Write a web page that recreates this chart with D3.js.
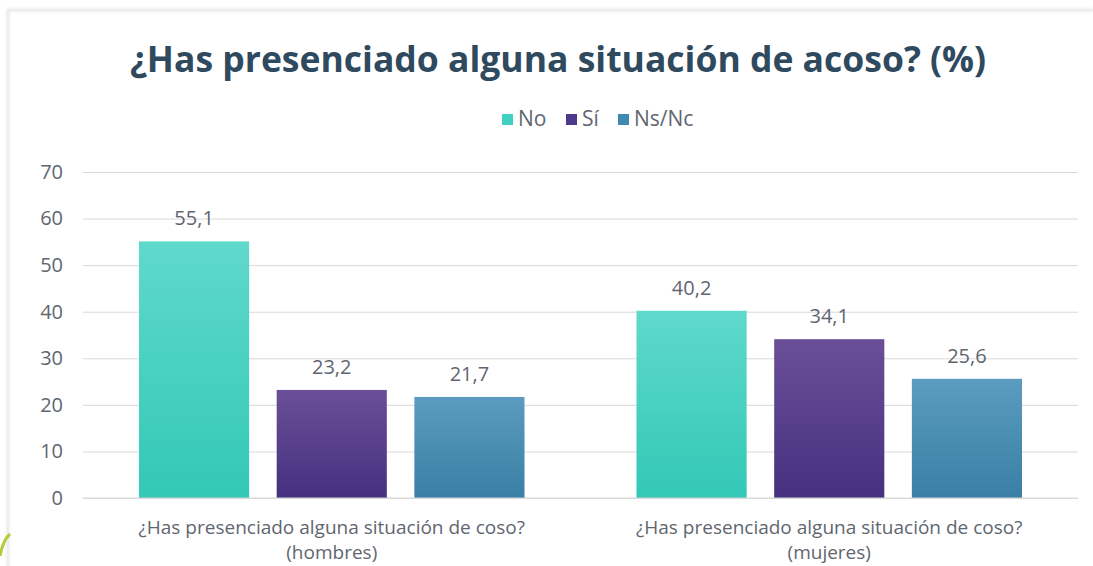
<!DOCTYPE html>
<html>
<head>
<meta charset="utf-8">
<script src="https://cdn.jsdelivr.net/npm/d3@7"></script>
<style>
  html, body { margin: 0; padding: 0; background: #ffffff; }
  svg { display: block; }
</style>
</head>
<body>
<script>
const categories = [
  ["¿Has presenciado alguna situación de coso?", "(hombres)"],
  ["¿Has presenciado alguna situación de coso?", "(mujeres)"]
];
const categoryKeys = ["hombres", "mujeres"];
const seriesNames = ["No", "Sí", "Ns/Nc"];
const seriesNo = [55.1, 40.2];
const seriesSi = [23.2, 34.1];
const seriesNsNc = [21.7, 25.6];
const yTicks = [0, 10, 20, 30, 40, 50, 60, 70];
const titleText = "¿Has presenciado alguna situación de acoso? (%)";

const seriesValues = [seriesNo, seriesSi, seriesNsNc];
const colors = {
  "No":    { legend: "#3fd0c0", top: "#5fd9cb", bottom: "#33c8b6" },
  "Sí":    { legend: "#4d3a8c", top: "#6a4f98", bottom: "#45307f" },
  "Ns/Nc": { legend: "#4189b0", top: "#5b9cc0", bottom: "#3a7fa6" }
};

const W = 1093, H = 566;
const margin = { left: 83, right: 15, top: 172, bottom: 68 };
const plotW = W - margin.left - margin.right;
const plotH = H - margin.top - margin.bottom;
const FONT = "Open Sans, sans-serif";
const GRAY = "#5f6670";

const svg = d3.select("body").append("svg").attr("width", W).attr("height", H);

// gradients
const defs = svg.append("defs");
seriesNames.forEach((s, i) => {
  const g = defs.append("linearGradient").attr("id", "grad" + i)
    .attr("x1", 0).attr("y1", 0).attr("x2", 0).attr("y2", 1);
  g.append("stop").attr("offset", "0%").attr("stop-color", colors[s].top);
  g.append("stop").attr("offset", "100%").attr("stop-color", colors[s].bottom);
});
const sh = defs.append("filter").attr("id", "shadow").attr("x", "-5%").attr("y", "-5%").attr("width", "110%").attr("height", "110%");
sh.append("feGaussianBlur").attr("stdDeviation", 1.5);

// panel border
svg.append("path")
  .attr("d", `M8,${H} L8,10 L${W},10`)
  .attr("fill", "none").attr("stroke", "#e6e6e6").attr("stroke-width", 2.5)
  .attr("filter", "url(#shadow)");
svg.append("path")
  .attr("d", `M8,${H} L8,10 L${W},10`)
  .attr("fill", "none").attr("stroke", "#e9e9e9").attr("stroke-width", 1);

// decorative swirl bottom-left
svg.append("path")
  .attr("d", "M0,556 Q3,540 10,534")
  .attr("fill", "none").attr("stroke", "#b6cc3a").attr("stroke-width", 3);

// title
svg.append("text")
  .attr("x", 558).attr("y", 72)
  .attr("text-anchor", "middle")
  .attr("font-family", FONT)
  .attr("font-weight", 700)
  .attr("font-size", 35.5)
  .attr("fill", "#2f4a5e")
  .text(titleText);

// legend
const legendItems = [
  { name: "No", x: 502 },
  { name: "Sí", x: 566 },
  { name: "Ns/Nc", x: 618 }
];
const lg = svg.append("g");
legendItems.forEach((it) => {
  lg.append("rect").attr("x", it.x).attr("y", 114).attr("width", 11).attr("height", 11)
    .attr("fill", colors[it.name].legend);
  lg.append("text").attr("x", it.x + 16).attr("y", 126)
    .attr("font-family", FONT).attr("font-size", 21)
    .attr("fill", GRAY).text(it.name);
});

const g = svg.append("g").attr("transform", `translate(${margin.left},${margin.top})`);

const y = d3.scaleLinear().domain([0, 70]).range([plotH, 0]);
const x0 = d3.scaleBand().domain(categoryKeys).range([0, plotW]).paddingInner(0).paddingOuter(0);
const groupPad = 56;
const x1 = d3.scaleBand().domain(seriesNames).range([groupPad, x0.bandwidth() - groupPad]).paddingInner(0.2).paddingOuter(0);

// gridlines + y labels
const yAxis = d3.axisLeft(y).tickValues(yTicks).tickSize(-plotW).tickPadding(20).tickFormat(d3.format("d"));
const ya = g.append("g").call(yAxis);
ya.select(".domain").remove();
ya.selectAll(".tick line").attr("stroke", "#d9d9d9").attr("stroke-width", 1);
ya.selectAll(".tick text")
  .attr("font-family", FONT).attr("font-size", 20)
  .attr("fill", GRAY);

// bars
const groups = g.selectAll(".grp").data(categoryKeys).join("g")
  .attr("transform", d => `translate(${x0(d)},0)`);

groups.each(function(cat, ci) {
  const gg = d3.select(this);
  seriesNames.forEach((s, si) => {
    const v = seriesValues[si][ci];
    gg.append("rect")
      .attr("x", x1(s)).attr("y", y(v))
      .attr("width", x1.bandwidth()).attr("height", y(0) - y(v))
      .attr("fill", `url(#grad${si})`);
    gg.append("text")
      .attr("x", x1(s) + x1.bandwidth() / 2).attr("y", y(v) - 16)
      .attr("text-anchor", "middle")
      .attr("font-family", FONT).attr("font-size", 20)
      .attr("fill", GRAY)
      .text(d3.format(".1f")(v).replace(".", ","));
  });
});

// baseline
g.append("line").attr("x1", 0).attr("x2", plotW).attr("y1", y(0)).attr("y2", y(0))
  .attr("stroke", "#d9d9d9").attr("stroke-width", 1);

// category labels
const xAxis = d3.axisBottom(x0).tickSize(0).tickFormat("");
const xa = g.append("g").attr("transform", `translate(0,${plotH})`).call(xAxis);
xa.select(".domain").remove();
xa.selectAll(".tick").each(function(d, i) {
  const t = d3.select(this).select("text");
  t.attr("font-family", FONT).attr("font-size", 19).attr("fill", GRAY)
    .attr("y", 0).attr("dy", 0);
  t.selectAll("tspan").data(categories[i]).join("tspan")
    .attr("x", 0).attr("y", (dd, k) => 36 + k * 25)
    .text(dd => dd);
});
</script>
</body>
</html>
